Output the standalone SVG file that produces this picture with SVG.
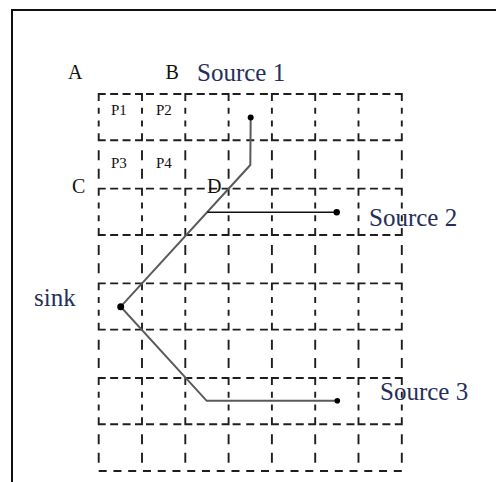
<svg xmlns="http://www.w3.org/2000/svg" width="496" height="482" viewBox="0 0 496 482">
  <style>
    .frame { fill: none; stroke: #111; stroke-width: 2; }
    .box { fill: none; stroke: #1e1e1e; stroke-width: 1.9; stroke-dasharray: 7 4.433 8 4.433 8 4.433 14 6.767 6 6.767 6 6.767 14 4.433 8 4.433 8 4.433 14 6.767 6 6.767 6 6.767 7 0; }
    .pv { stroke: #1e1e1e; stroke-width: 1.9; stroke-dasharray: 0 10 10 8.37 10 56.3; }
    .ph { stroke: #1e1e1e; stroke-width: 1.9; stroke-dasharray: 0 4 8 5.65 8 5.65 8 47.3; }
    .pb { stroke: #1e1e1e; stroke-width: 1.9; stroke-dasharray: 8 6.755; }
    .corner { font-family: "Liberation Serif", "Times New Roman", serif; font-size: 20px; fill: #111; }
    .cell { font-family: "Liberation Serif", "Times New Roman", serif; font-size: 15px; fill: #111; }
    .big { font-family: "Liberation Serif", "Times New Roman", serif; font-size: 25px; fill: #262f5a; }
    .route { fill: none; stroke: #5a5a5a; stroke-width: 2; stroke-linejoin: miter; }
    .route2 { fill: none; stroke: #111; stroke-width: 1.6; }
    .dot { fill: #000; }
  </style>
  <defs>
    <rect id="bx" class="box" x="0" y="0" width="43.3" height="46.3"/>
  </defs>
  <rect width="496" height="482" fill="#fff"/>
  <path class="frame" d="M12,482 V10 H496"/>

  <g id="grid">
    <use href="#bx" x="98.7" y="94"/>
    <use href="#bx" x="185.3" y="94"/>
    <use href="#bx" x="271.9" y="94"/>
    <use href="#bx" x="358.5" y="94"/>
    <use href="#bx" x="98.7" y="188.67"/>
    <use href="#bx" x="185.3" y="188.67"/>
    <use href="#bx" x="271.9" y="188.67"/>
    <use href="#bx" x="358.5" y="188.67"/>
    <use href="#bx" x="98.7" y="283.33"/>
    <use href="#bx" x="185.3" y="283.33"/>
    <use href="#bx" x="271.9" y="283.33"/>
    <use href="#bx" x="358.5" y="283.33"/>
    <use href="#bx" x="98.7" y="378"/>
    <use href="#bx" x="185.3" y="378"/>
    <use href="#bx" x="271.9" y="378"/>
    <use href="#bx" x="358.5" y="378"/>
    <line class="pv" x1="98.7" y1="140.3" x2="98.7" y2="471"/>
    <line class="pv" x1="142" y1="140.3" x2="142" y2="471"/>
    <line class="pv" x1="185.3" y1="140.3" x2="185.3" y2="471"/>
    <line class="pv" x1="228.6" y1="140.3" x2="228.6" y2="471"/>
    <line class="pv" x1="271.9" y1="140.3" x2="271.9" y2="471"/>
    <line class="pv" x1="315.2" y1="140.3" x2="315.2" y2="471"/>
    <line class="pv" x1="358.5" y1="140.3" x2="358.5" y2="471"/>
    <line class="pv" x1="401.8" y1="140.3" x2="401.8" y2="471"/>
    <line class="ph" x1="142" y1="94" x2="358.5" y2="94"/>
    <line class="ph" x1="142" y1="140.3" x2="358.5" y2="140.3"/>
    <line class="ph" x1="142" y1="188.67" x2="358.5" y2="188.67"/>
    <line class="ph" x1="142" y1="234.97" x2="358.5" y2="234.97"/>
    <line class="ph" x1="142" y1="283.33" x2="358.5" y2="283.33"/>
    <line class="ph" x1="142" y1="329.63" x2="358.5" y2="329.63"/>
    <line class="ph" x1="142" y1="378" x2="358.5" y2="378"/>
    <line class="ph" x1="142" y1="424.3" x2="358.5" y2="424.3"/>
    <line class="pb" x1="98.7" y1="471" x2="401.8" y2="471"/>
  </g>

  <g id="connectors">
    <polyline class="route" points="250.7,117.5 250.3,165 120.7,306.7 206.7,400.8 337.3,400.8"/>
    <line class="route2" x1="207.3" y1="212.3" x2="336.7" y2="212.3"/>
  </g>

  <g id="corner-labels">
    <text class="corner" x="68" y="79">A</text>
    <text class="corner" x="165.5" y="79">B</text>
    <text class="corner" x="72" y="193">C</text>
    <text class="corner" x="207" y="193">D</text>
  </g>

  <g id="cell-labels">
    <text class="cell" x="111" y="115">P1</text>
    <text class="cell" x="156" y="115">P2</text>
    <text class="cell" x="111" y="168">P3</text>
    <text class="cell" x="156" y="168">P4</text>
  </g>

  <g id="source1">
    <circle class="dot" cx="250.7" cy="117.5" r="3"/>
    <text class="big" x="197" y="81">Source 1</text>
  </g>
  <g id="source2">
    <circle class="dot" cx="336.7" cy="212.3" r="3.2"/>
    <text class="big" x="369" y="226">Source 2</text>
  </g>
  <g id="source3">
    <circle class="dot" cx="337.3" cy="400.8" r="2.8"/>
    <text class="big" x="380" y="400">Source 3</text>
  </g>
  <g id="sink">
    <circle class="dot" cx="120.7" cy="306.7" r="3.5"/>
    <text class="big" x="34" y="306">sink</text>
  </g>
</svg>
